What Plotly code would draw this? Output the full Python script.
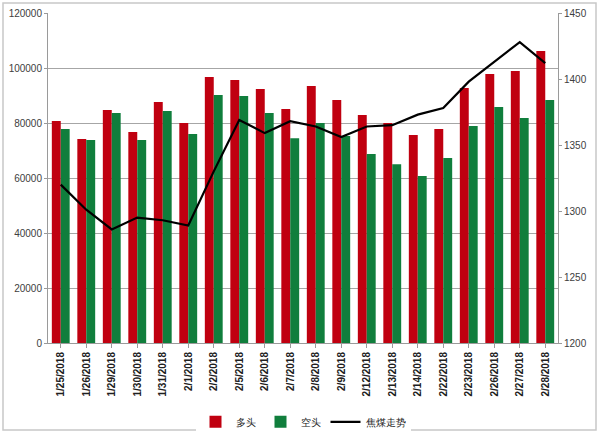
import plotly.graph_objects as go

dates = ["1/25/2018", "1/26/2018", "1/29/2018", "1/30/2018", "1/31/2018", "2/1/2018",
         "2/2/2018", "2/5/2018", "2/6/2018", "2/7/2018", "2/8/2018", "2/9/2018",
         "2/12/2018", "2/13/2018", "2/14/2018", "2/22/2018", "2/23/2018", "2/26/2018",
         "2/27/2018", "2/28/2018"]
long_pos = [80700, 74200, 84700, 76700, 87600, 80000, 96700, 95600, 92400, 85100,
            93500, 88400, 82900, 80000, 75600, 77800, 92700, 97800, 98900, 106200]
short_pos = [77800, 73800, 83600, 73800, 84400, 76000, 90200, 89800, 83600, 74500,
             80000, 75300, 68700, 65000, 60700, 67300, 78900, 85800, 81800, 88400]
coke_price = [1320, 1301, 1286, 1295, 1293, 1289, 1330, 1369, 1359, 1368,
              1364, 1356, 1364, 1365, 1373, 1378, 1398, 1413, 1428, 1412]

fig = go.Figure()
fig.add_trace(go.Bar(x=dates, y=long_pos, name="多头", marker=dict(color="#C00010", line=dict(width=0))))
fig.add_trace(go.Bar(x=dates, y=short_pos, name="空头", marker=dict(color="#107E3C", line=dict(width=0))))
fig.add_trace(go.Scatter(x=dates, y=coke_price, name="焦煤走势", yaxis="y2", mode="lines",
                         line=dict(color="black", width=2.2)))

fig.update_layout(
    width=600, height=433,
    margin=dict(l=48, r=42, t=13, b=90, autoexpand=False),
    paper_bgcolor="white", plot_bgcolor="white",
    barmode="group", bargap=0.3, bargroupgap=0,
    font=dict(family="Liberation Sans, Arial, sans-serif", size=10, color="#404040"),
    xaxis=dict(tickangle=-90, tickfont=dict(size=10, color="#202020", family="Liberation Sans", weight="bold"),
               showline=True, linecolor="#9a9a9a", ticks="outside", ticklen=4, tickcolor="#9a9a9a",
               showgrid=False),
    yaxis=dict(range=[0, 120000], dtick=20000, tickformat="d", showgrid=True, gridcolor="#a6a6a6", gridwidth=1,
               showline=True, linecolor="#9a9a9a", tickfont=dict(size=10, color="#404040"),
               zeroline=False, ticks="outside", ticklen=3, tickcolor="#9a9a9a"),
    yaxis2=dict(range=[1200, 1450], dtick=50, overlaying="y", side="right", showgrid=False,
                showline=True, linecolor="#9a9a9a", tickfont=dict(size=10, color="#404040"),
                zeroline=False, ticks="outside", ticklen=3, tickcolor="#9a9a9a"),
    legend=dict(orientation="h", x=0.5, xanchor="center", y=-0.195, yanchor="top",
                font=dict(size=10, color="#202020"), traceorder="normal",
                itemwidth=30, entrywidth=0, tracegroupgap=0),
    shapes=[dict(type="rect", xref="paper", yref="paper",
                 x0=(3 - 48) / 510, x1=(596 - 48) / 510,
                 y0=(343 - 430) / 330, y1=(343 - 3) / 330,
                 line=dict(color="#c8c8c8", width=1.5))],
)

fig.write_html("out.html")
